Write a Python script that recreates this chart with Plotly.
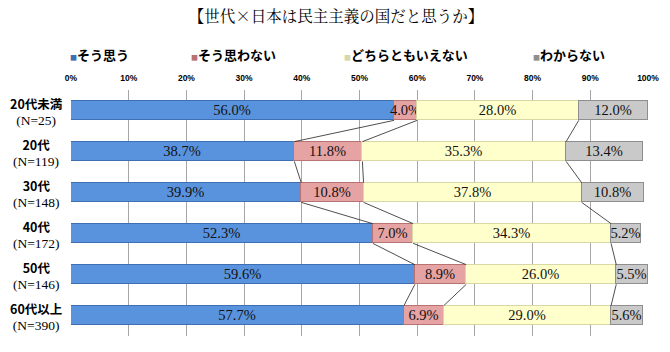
import plotly.graph_objects as go

categories = ["20代未満", "20代", "30代", "40代", "50代", "60代以上"]
sample_sizes = ["(N=25)", "(N=119)", "(N=148)", "(N=172)", "(N=146)", "(N=390)"]
series_names = ["そう思う", "そう思わない", "どちらともいえない", "わからない"]
yes_vals = [56.0, 38.7, 39.9, 52.3, 59.6, 57.7]
no_vals = [4.0, 11.8, 10.8, 7.0, 8.9, 6.9]
neutral_vals = [28.0, 35.3, 37.8, 34.3, 26.0, 29.0]
unknown_vals = [12.0, 13.4, 10.8, 5.2, 5.5, 5.6]
x_ticks = [0, 10, 20, 30, 40, 50, 60, 70, 80, 90, 100]

series_vals = [yes_vals, no_vals, neutral_vals, unknown_vals]
fills = ["#5A93DD", "#E6A3A3", "#FFFFCC", "#C9C9C9"]
edges = ["#3E6FB2", "#B87272", "#D8D8A6", "#8E8E8E"]

W, H = 670, 352
L, R, T, B = 71, 22, 90, 16
bar_w = 0.48
ypos = list(range(len(categories)))

fig = go.Figure()

for name, vals, fc, ec in zip(series_names, series_vals, fills, edges):
    fig.add_trace(go.Bar(
        y=ypos, x=vals, orientation="h", name=name, width=bar_w,
        marker=dict(color=fc, line=dict(color=ec, width=1)),
        texttemplate="%{x:.1f}%", textposition="inside",
        insidetextanchor="middle", constraintext="none",
        textfont=dict(family="Liberation Serif, Times New Roman, serif", size=14.5, color="#111111"),
        showlegend=False, hoverinfo="skip", cliponaxis=False,
    ))

# series lines between bars at cumulative boundaries
lx, ly = [], []
cum = [[0.0] * len(categories)]
for vals in series_vals[:-1]:
    cum.append([c + v for c, v in zip(cum[-1], vals)])
for k in range(1, len(cum)):
    for i in range(len(categories) - 1):
        lx += [cum[k][i], cum[k][i + 1], None]
        ly += [i + bar_w / 2, i + 1 - bar_w / 2, None]
fig.add_trace(go.Scatter(x=lx, y=ly, mode="lines", line=dict(color="#222222", width=0.8),
                         showlegend=False, hoverinfo="skip"))

# legends: one per series, positioned individually
legend_text_x = [70, 191, 344, 533]
layout_legends = {}
for j, (name, fc) in enumerate(zip(series_names, fills)):
    key = "legend" if j == 0 else f"legend{j+1}"
    fig.add_trace(go.Scatter(
        x=[None], y=[None], mode="markers",
        marker=dict(size=1, color="rgba(0,0,0,0)"),
        name=f"<span style='font-size:7px;color:{edges[j]}'>■</span>{name}",
        legend=key, showlegend=True, hoverinfo="skip",
    ))
    layout_legends[key] = dict(
        xref="container", yref="container",
        x=(legend_text_x[j] - 40) / W, y=1 - 55 / H,
        xanchor="left", yanchor="middle",
        orientation="h", itemwidth=30, bgcolor="rgba(0,0,0,0)",
        font=dict(family="Noto Sans CJK JP", size=13, color="#000000", weight="bold"),
    )

# category labels
annotations = []
for i, (c, n) in enumerate(zip(categories, sample_sizes)):
    annotations.append(dict(
        xref="paper", yref="y", x=(36 - L) / (W - L - R), y=i,
        text=f"<b>{c}</b><br><span style='font-family:Liberation Serif;font-size:13.5px'>{n}</span>",
        showarrow=False, xanchor="center", yanchor="middle", align="center",
        font=dict(family="Noto Sans CJK JP", size=12.5, color="#000000"),
    ))

fig.update_layout(
    width=W, height=H,
    margin=dict(l=L, r=R, t=T, b=B, autoexpand=False),
    paper_bgcolor="white", plot_bgcolor="white",
    barmode="stack", bargap=0,
    title=dict(text="【世代×日本は民主主義の国だと思うか】", x=336 / W, xanchor="center",
               y=1 - 17 / H, yanchor="middle", xref="container", yref="container",
               font=dict(family="Noto Serif CJK JP, Noto Sans CJK JP", size=15.5, color="#000000")),
    xaxis=dict(range=[0, 100], side="top", tickvals=x_ticks, automargin=False,
               ticktext=[f"{t}%" for t in x_ticks],
               showgrid=True, gridcolor="#A6A6A6", gridwidth=1,
               zeroline=False, showline=False, ticks="", ticklabelstandoff=6,
               tickfont=dict(family="Liberation Sans, Arial", size=8.5, color="#000000", weight="bold")),
    yaxis=dict(range=[len(categories) - 0.5, -0.5], showgrid=False, zeroline=False,
               showticklabels=False, ticks="", automargin=False),
    annotations=annotations,
    showlegend=True,
    **layout_legends,
)

fig.write_html("out.html")
